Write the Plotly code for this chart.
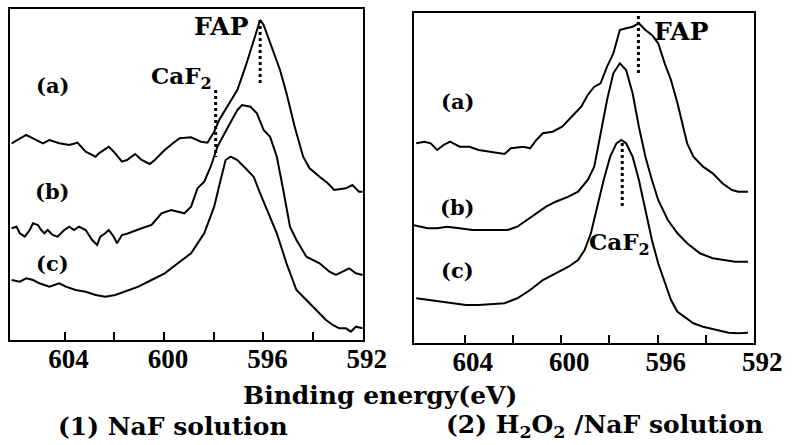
import plotly.graph_objects as go

# ---------------- data (binding energy in eV, intensity in arbitrary units) ----------------
# Panel (1) NaF solution
naf_a_x = [606.13, 605.54, 605.27, 604.87, 604.61, 604.21, 603.81, 603.48, 603.15, 602.75, 602.62,
           602.22, 602.02, 601.69, 601.49, 601.16, 600.9, 600.57, 600.37, 599.97, 599.64, 599.37,
           598.91, 598.51, 598.25, 597.98, 597.78, 597.45, 597.05, 596.72, 596.39, 596.13, 595.99,
           595.73, 595.33, 595.07, 594.74, 594.4, 594.14, 593.74, 593.41, 593.15, 592.68, 592.42,
           592.15, 592.0]
naf_a_y = [196.7, 205, 201.7, 196.7, 200, 196.7, 195, 197.3, 188.3, 183.3, 186.7,
           193.3, 188.3, 178.3, 180, 186, 180, 176, 180, 190, 196.7, 201.7,
           202.7, 198.3, 197.3, 208.3, 220, 233.3, 250, 273.3, 300, 320, 315,
           296.7, 270, 246.7, 213.3, 183.3, 171.7, 163.3, 156.7, 150, 151.7, 155,
           148.3, 148.3]

naf_b_x = [606.13, 605.93, 605.8, 605.6, 605.4, 605.27, 605.07, 604.94, 604.81, 604.68, 604.48,
           604.28, 604.01, 603.81, 603.62, 603.42, 603.15, 602.89, 602.69, 602.56, 602.36, 602.22,
           602.02, 601.89, 601.69, 601.43, 600.9, 600.5, 600.1, 599.71, 599.18, 598.91, 598.65,
           598.38, 598.12, 597.85, 597.45, 597.05, 596.86, 596.52, 596.26, 595.99, 595.73, 595.46,
           595.2, 594.93, 594.67, 594.27, 593.74, 593.34, 593.08, 592.81, 592.55, 592.28, 592.0]
naf_b_y = [111.7, 113.3, 106.7, 103.3, 110, 116.7, 115, 110, 106.7, 110, 105,
           103.3, 110, 113.3, 110, 113.3, 110, 100, 95, 103.3, 106.7, 110,
           103.3, 96.7, 105, 106.7, 111.7, 115, 126.7, 130, 126.7, 133.3, 151.7,
           158.3, 173.3, 193.3, 211.7, 230, 235, 233.3, 226.7, 210, 203.3, 183.3,
           150, 113.3, 100, 83.3, 76.7, 68.3, 65, 68.3, 71.7, 66.7, 65]

naf_c_x = [606.13, 605.8, 605.54, 605.27, 605.01, 604.61, 604.21, 603.95, 603.55, 603.15, 602.75,
           602.36, 601.96, 601.56, 601.03, 600.5, 599.97, 599.44, 598.91, 598.38, 597.98, 597.72,
           597.52, 597.32, 597.05, 596.72, 596.39, 596.13, 595.86, 595.46, 595.07, 594.67, 594.27,
           593.87, 593.48, 593.21, 592.95, 592.68, 592.48, 592.28, 592.0]
naf_c_y = [60, 58.3, 61.7, 60, 56.7, 53.3, 56.7, 53.3, 50, 48.3, 45,
           43.3, 45, 48.3, 53.3, 60, 66.7, 76.7, 86.7, 106.7, 133.3, 160,
           180, 183.3, 180, 171.7, 163.3, 146.7, 130, 106.7, 76.7, 50, 40,
           30, 20, 15, 11.7, 11.7, 8.3, 13.3, 11.7]

# Panel (2) H2O2/NaF solution
h2o2_a_x = [606.01, 605.67, 605.41, 605.14, 604.88, 604.61, 604.21, 603.81, 603.42, 603.02, 602.62,
            602.35, 602.09, 601.56, 601.29, 601.03, 600.76, 600.36, 599.96, 599.83, 599.43, 599.17,
            598.9, 598.63, 598.37, 598.1, 597.84, 597.57, 597.31, 597.04, 596.78, 596.51, 596.24,
            595.98, 595.71, 595.45, 595.18, 594.92, 594.78, 594.52, 594.12, 593.72, 593.32, 592.92,
            592.66, 592.26]
h2o2_a_y = [198.7, 200.3, 198.7, 192, 197, 200.3, 195.3, 195.3, 192, 190.3, 188.7,
            188, 193.7, 195.3, 193.7, 202, 208.7, 210.3, 215.3, 218.7, 228.7, 235.3,
            247, 255.3, 258.7, 275.3, 288.7, 312, 313.7, 315.3, 318.7, 312, 307,
            298.7, 278.7, 262, 238.7, 212, 198.7, 185.3, 175.3, 168.7, 158.7, 152,
            150.3, 150.3]

h2o2_b_x = [606.14, 605.81, 605.54, 605.14, 604.74, 604.21, 603.68, 603.15, 602.62, 602.22, 601.82,
            601.42, 601.03, 600.63, 600.23, 599.7, 599.3, 598.9, 598.63, 598.37, 598.1, 597.84,
            597.57, 597.31, 597.04, 596.78, 596.51, 596.24, 595.98, 595.58, 595.18, 594.78, 594.25,
            593.72, 593.19, 592.79, 592.26]
h2o2_b_y = [117, 115.3, 113.7, 113.7, 115.3, 113.7, 112, 112, 112, 112, 115.3,
            122, 128.7, 135.3, 140.3, 145.3, 150.3, 162, 175.3, 208.7, 242, 268.7,
            278.7, 272, 248.7, 215.3, 185.3, 162, 142, 122, 108.7, 98.7, 88.7,
            83.7, 82, 80.3, 80.3]

h2o2_c_x = [606.01, 605.54, 605.01, 604.48, 603.95, 603.42, 602.88, 602.35, 601.82, 601.29, 600.76,
            600.23, 599.7, 599.3, 599.03, 598.77, 598.5, 598.24, 597.97, 597.71, 597.51, 597.31,
            597.04, 596.78, 596.51, 596.24, 595.98, 595.71, 595.45, 595.18, 594.92, 594.52, 594.12,
            593.59, 593.06, 592.66, 592.26]
h2o2_c_y = [43.7, 42, 40.3, 38.7, 37, 37, 38, 38.7, 43.7, 52, 62,
            68.7, 75.3, 82, 92, 108.7, 135.3, 162, 185.3, 198.7, 202, 198.7,
            185.3, 162, 132, 102, 78.7, 59.3, 42, 30.3, 25.7, 18.7, 15.3,
            12, 9.3, 8.7, 9.3]

# marker lines (dotted): [energy, intensity from, intensity to]
naf_fap = [596.13, 320, 255]
naf_caf2 = [597.92, 250, 183]
h2o2_fap = [596.8, 332, 267]
h2o2_caf2 = [597.47, 199, 135]

major_ticks = [604, 600, 596, 592]
minor_ticks = [602, 598, 594]
curve_labels = ["(a)", "(b)", "(c)"]

# ---------------- figure ----------------
W, H = 796, 445
WX = 779  # horizontal extent the page is actually laid out in

LINE = dict(color="black", width=2)
fig = go.Figure()

for xs, ys in [(naf_a_x, naf_a_y), (naf_b_x, naf_b_y), (naf_c_x, naf_c_y)]:
    fig.add_trace(go.Scatter(x=xs, y=ys, mode="lines", line=LINE, xaxis="x", yaxis="y",
                             showlegend=False, hoverinfo="skip"))
for xs, ys in [(h2o2_a_x, h2o2_a_y), (h2o2_b_x, h2o2_b_y), (h2o2_c_x, h2o2_c_y)]:
    fig.add_trace(go.Scatter(x=xs, y=ys, mode="lines", line=LINE, xaxis="x2", yaxis="y2",
                             showlegend=False, hoverinfo="skip"))

for m, xa, ya in [(naf_fap, "x", "y"), (naf_caf2, "x", "y"), (h2o2_fap, "x2", "y2"), (h2o2_caf2, "x2", "y2")]:
    fig.add_trace(go.Scatter(x=[m[0], m[0]], y=[m[1], m[2]], mode="lines",
                             line=dict(color="black", width=3, dash="dot"),
                             xaxis=xa, yaxis=ya, showlegend=False, hoverinfo="skip"))

SERIF = "DejaVu Serif"
tickfont = dict(family="Liberation Serif", size=27, color="black", weight="bold")
axis_common = dict(showline=True, linecolor="black", linewidth=2, mirror=True,
                   showgrid=False, zeroline=False)
xaxis_common = dict(tickmode="array", tickvals=major_ticks, ticks="inside", ticklen=8,
                    tickwidth=2, tickcolor="black", tickfont=tickfont, ticklabelstandoff=-6,
                    minor=dict(tickmode="array", tickvals=minor_ticks, ticks="inside", ticklen=8,
                               tickwidth=2, tickcolor="black", showgrid=False))
fig.update_layout(
    width=W, height=H, autosize=False,
    margin=dict(l=0, r=0, t=0, b=0, pad=0),
    paper_bgcolor="white", plot_bgcolor="white",
    xaxis=dict(domain=[10 / WX, 368 / WX], range=[606.2, 592], anchor="y", ticklabelshift=-4,
               **xaxis_common, **axis_common),
    yaxis=dict(domain=[1 - 340 / H, 1 - 9 / H], range=[0, 331], anchor="x",
               showticklabels=False, ticks="", **axis_common),
    xaxis2=dict(domain=[420 / WX, 765 / WX], range=[606.1, 592], anchor="y2", ticklabelshift=-8,
                **xaxis_common, **axis_common),
    yaxis2=dict(domain=[1 - 343 / H, 1 - 13 / H], range=[-1, 329], anchor="x2",
                showticklabels=False, ticks="", **axis_common),
)

ann = []
label_font = dict(family=SERIF, size=21, color="black", weight="bold")
for lab, yv in zip(curve_labels, [254, 148, 77]):
    ann.append(dict(x=604.49, y=yv, xref="x", yref="y", text=lab, showarrow=False, font=label_font))
for lab, yv in zip(curve_labels, [241, 135, 72]):
    ann.append(dict(x=604.28, y=yv, xref="x2", yref="y2", text=lab, showarrow=False, font=label_font))

big = dict(family=SERIF, size=25, color="black", weight="bold")
caf = dict(family=SERIF, size=23, color="black", weight="bold")
bottom = dict(family=SERIF, size=25, color="black", weight="bold")
ann += [
    dict(x=597.69, y=313, xref="x", yref="y", text="FAP", showarrow=False, font=big),
    dict(x=599.28, y=262, xref="x", yref="y", text="CaF<sub>2</sub>", showarrow=False, font=caf),
    dict(x=595.0, y=311, xref="x2", yref="y2", text="FAP", showarrow=False, font=big),
    dict(x=597.59, y=99, xref="x2", yref="y2", text="CaF<sub>2</sub>", showarrow=False, font=caf),
    dict(x=385 / WX, y=1 - 395 / H, xref="paper", yref="paper", xanchor="center", yanchor="middle",
         text="Binding energy(eV)", showarrow=False, font=bottom),
    dict(x=175 / WX, y=1 - 426 / H, xref="paper", yref="paper", xanchor="center", yanchor="middle",
         text="(1) NaF solution", showarrow=False, font=bottom),
    dict(x=613 / WX, y=1 - 426 / H, xref="paper", yref="paper", xanchor="center", yanchor="middle",
         text="(2) H<sub>2</sub>O<sub>2</sub> /NaF solution", showarrow=False, font=bottom),
]
fig.update_layout(annotations=ann)

fig.write_html("out.html", config={"responsive": False})
